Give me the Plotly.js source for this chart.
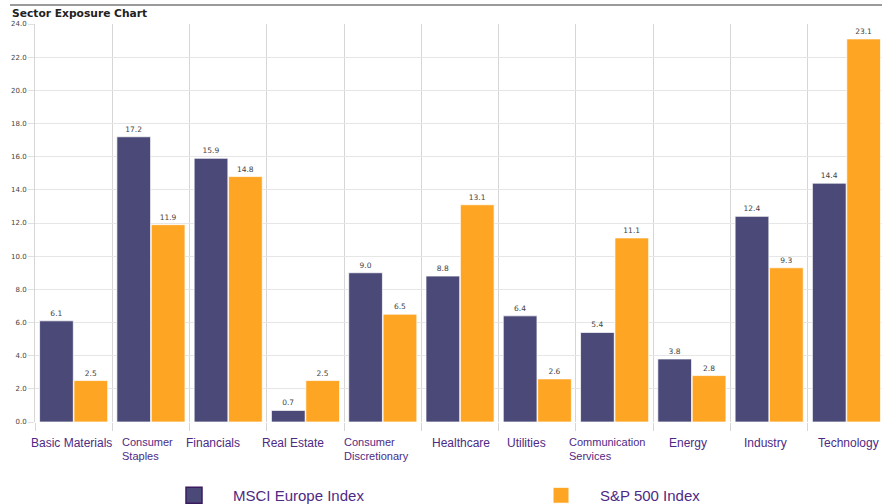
<!DOCTYPE html>
<html>
<head>
<meta charset="utf-8">
<script src="https://cdn.plot.ly/plotly-3.0.1.min.js"></script>
<style>html,body{margin:0;padding:0;background:#fff;}#chart{width:882px;height:504px;}</style>
</head>
<body>
<div id="chart"></div>
<script>
var categories = ["Basic Materials", "Consumer Staples", "Financials", "Real Estate", "Consumer Discretionary", "Healthcare", "Utilities", "Communication Services", "Energy", "Industry", "Technology"];
var categoryLabels = ["Basic Materials", "Consumer<br>Staples", "Financials", "Real Estate", "Consumer<br>Discretionary", "Healthcare", "Utilities", "Communication<br>Services", "Energy", "Industry", "Technology"];
var msciEurope = [6.1, 17.2, 15.9, 0.7, 9.0, 8.8, 6.4, 5.4, 3.8, 12.4, 14.4];
var sp500 = [2.5, 11.9, 14.8, 2.5, 6.5, 13.1, 2.6, 11.1, 2.8, 9.3, 23.1];
var seriesNames = ["MSCI Europe Index", "S&P 500 Index"];
var yTicks = [0, 2, 4, 6, 8, 10, 12, 14, 16, 18, 20, 22, 24];

// style: horizontal offset (px) of each label's left edge from its category centre
var labelShift = [-45, -31, -44, -45, -41, -30, -32, -48, -25, -27, -30];

var purple = "#4a4978";
var orange = "#fea624";
var labelColor = "#4e2a84";

var traces = [
  {type: "bar", x: categories, y: msciEurope, name: seriesNames[0], showlegend: false,
   marker: {color: purple, line: {color: "rgba(255,255,255,0.7)", width: 1}},
   texttemplate: "%{y:.1f}", textposition: "outside", cliponaxis: false,
   textfont: {family: "DejaVu Sans", size: 7.5, color: "#444"}, hoverinfo: "none"},
  {type: "bar", x: categories, y: sp500, name: seriesNames[1], showlegend: false,
   marker: {color: orange, line: {color: "rgba(255,255,255,0.7)", width: 1}},
   texttemplate: "%{y:.1f}", textposition: "outside", cliponaxis: false,
   textfont: {family: "DejaVu Sans", size: 7.5, color: "#444"}, hoverinfo: "none"},
  {type: "scatter", x: [null], y: [null], mode: "markers", name: seriesNames[0],
   marker: {symbol: "square", size: 22, color: purple, line: {color: "#3a1c5e", width: 1.5}}},
  {type: "scatter", x: [null], y: [null], mode: "markers", name: seriesNames[1],
   marker: {symbol: "square", size: 22, color: orange, line: {color: "#ffffff", width: 1}}}
];

var annotations = categories.map(function (c, i) {
  var twoLine = categoryLabels[i].indexOf("<br>") >= 0;
  return {x: c, y: 0, xref: "x", yref: "y", xanchor: "left", yanchor: "top",
    xshift: labelShift[i], yshift: -12,
    text: categoryLabels[i], showarrow: false, align: "left",
    font: {family: "Liberation Sans", size: twoLine ? 11 : 12, color: labelColor}};
});

var layout = {
  width: 882, height: 504,
  margin: {l: 35, r: 0, t: 24, b: 82, autoexpand: false},
  paper_bgcolor: "#fff", plot_bgcolor: "#fff",
  title: {text: "<b>Sector Exposure Chart</b>", xref: "container", yref: "container",
    x: 12 / 882, xanchor: "left", y: 1 - 13 / 504, yanchor: "middle",
    font: {family: "DejaVu Sans", size: 10.7, color: "#222"}},
  barmode: "group", bargap: 0.11, bargroupgap: 0.02,
  xaxis: {type: "category", range: [-0.5, 10.46], tickson: "boundaries",
    showgrid: true, gridcolor: "#d6d6d6", gridwidth: 1,
    ticks: "outside", ticklen: 8, tickcolor: "#d6d6d6",
    showticklabels: false, zeroline: false, showline: false, fixedrange: true},
  yaxis: {range: [0, 24], tickvals: yTicks, tickformat: ".1f",
    showgrid: true, gridcolor: "#e6e6e6", gridwidth: 1,
    ticks: "outside", ticklen: 6, tickcolor: "#e0e0e0",
    tickfont: {family: "DejaVu Sans", size: 7, color: "#444"},
    zeroline: false, showline: true, linecolor: "#d6d6d6", linewidth: 1, fixedrange: true},
  showlegend: true,
  legend: {orientation: "h", xref: "container", yref: "container",
    x: 155 / 882, xanchor: "left", y: 1 - 479 / 504, yanchor: "top",
    font: {family: "Liberation Sans", size: 15, color: labelColor},
    itemwidth: 68, entrywidthmode: "pixels", entrywidth: 284, bgcolor: "rgba(0,0,0,0)"},
  shapes: [{type: "line", xref: "paper", yref: "paper", x0: -25 / 847, x1: 1, y0: 1.0477, y1: 1.0477,
    line: {color: "#9a9a9a", width: 2}}],
  annotations: annotations
};

Plotly.newPlot("chart", traces, layout, {displayModeBar: false, staticPlot: true});
</script>
</body>
</html>
